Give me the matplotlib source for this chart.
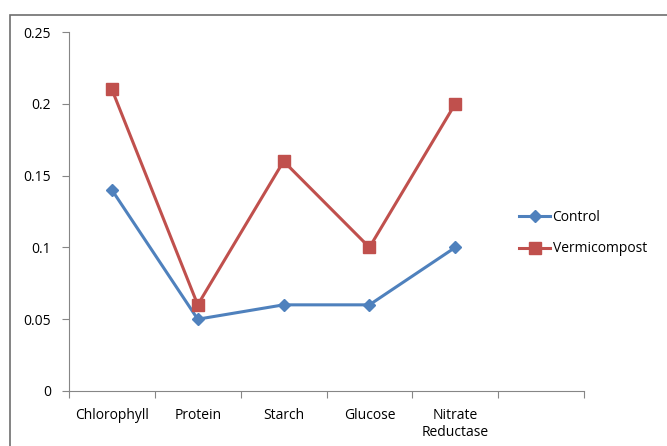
import matplotlib.pyplot as plt
import matplotlib.patches as patches

categories = ["Chlorophyll", "Protein", "Starch", "Glucose", "Nitrate\nReductase"]
control = [0.14, 0.05, 0.06, 0.06, 0.10]
vermicompost = [0.21, 0.06, 0.16, 0.10, 0.20]
yticks = [0, 0.05, 0.1, 0.15, 0.2, 0.25]
ytick_labels = ["0", "0.05", "0.1", "0.15", "0.2", "0.25"]

plt.rcParams["font.family"] = ["Open Sans", "DejaVu Sans"]

fig = plt.figure(figsize=(6.67, 4.46), dpi=100)
ax = fig.add_axes([69 / 667, 55 / 446, 515 / 667, 359 / 446])

# outer chart frame (Excel style)
frame = patches.Rectangle((10 / 667, -0.1), 1.1, 1.1 - 15 / 446,
                          transform=fig.transFigure, fill=False,
                          edgecolor="#6e6e6e", linewidth=1.2)
fig.patches.append(frame)

x = [i + 0.5 for i in range(len(categories))]
ax.plot(x, control, color="#4F81BD", linewidth=2.2, marker="D",
        markersize=6, label="Control")
ax.plot(x, vermicompost, color="#C0504D", linewidth=2.2, marker="s",
        markersize=8.5, label="Vermicompost")

ax.set_xlim(0, 6)
ax.set_ylim(0, 0.25)
ax.set_yticks(yticks)
ax.set_yticklabels(ytick_labels, fontsize=10)
ax.set_xticks(range(7))
ax.set_xticklabels([])
ax.set_xticks(x, minor=True)
ax.set_xticklabels(categories, minor=True, fontsize=10)
ax.tick_params(axis="x", which="minor", length=0, pad=12)
ax.tick_params(axis="x", which="major", length=5, color="#868686", direction="out")
ax.tick_params(axis="y", length=5, color="#868686", pad=8)

for s in ["top", "right"]:
    ax.spines[s].set_visible(False)
for s in ["left", "bottom"]:
    ax.spines[s].set_color("#868686")

ax.legend(loc="center left", bbox_to_anchor=(0.85, 0.44), frameon=False,
          fontsize=10, handlelength=2.2, labelspacing=1.2, handletextpad=0.2)

fig.savefig("out.png", dpi=100)
